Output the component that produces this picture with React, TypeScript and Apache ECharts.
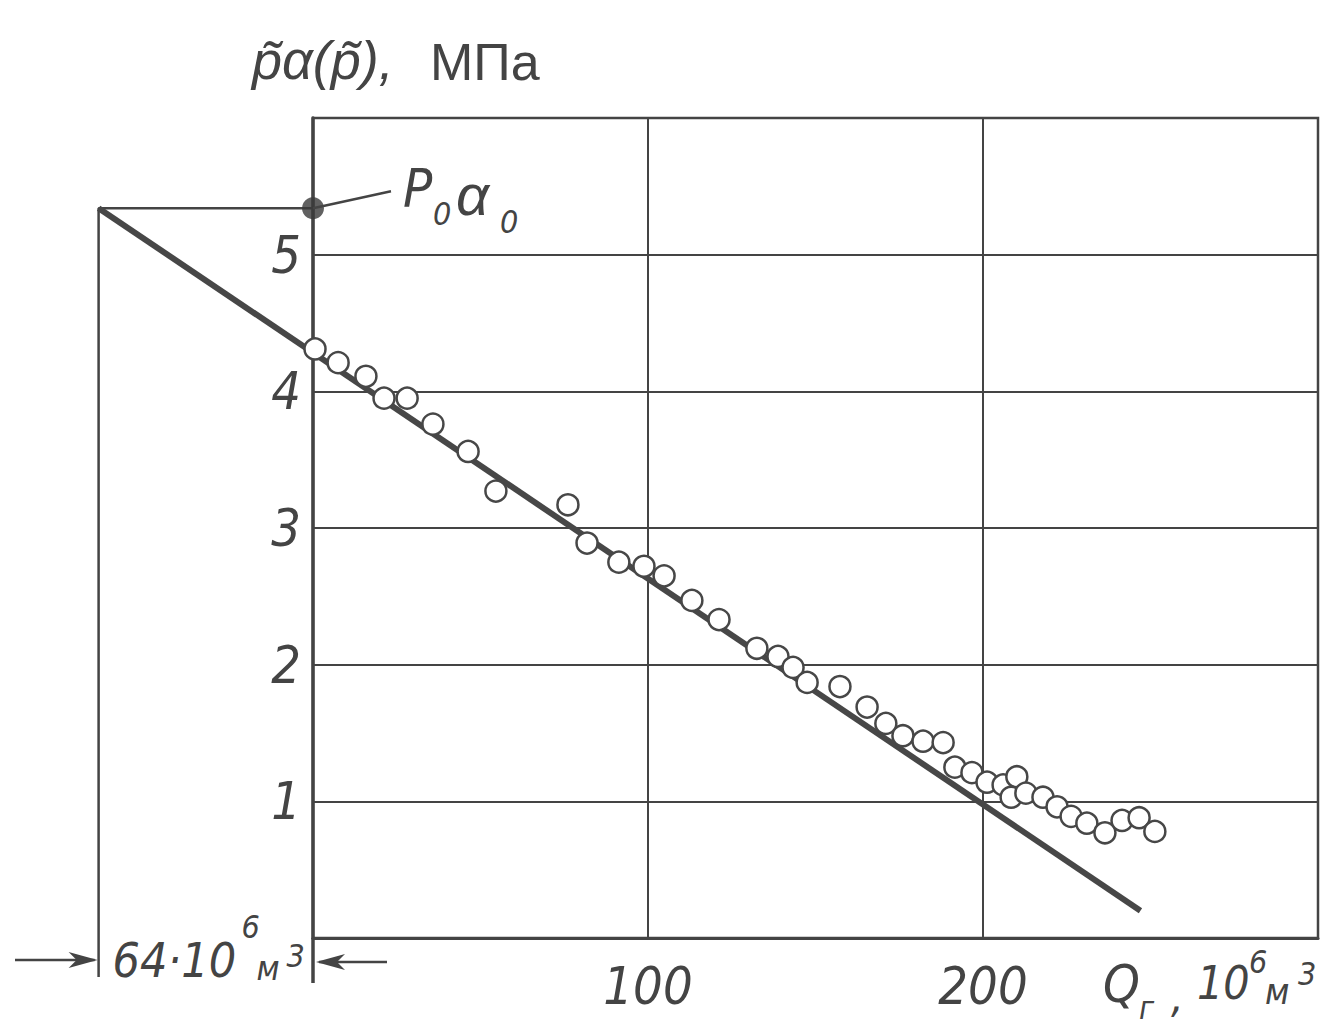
import React, { useEffect, useRef } from "react";
import * as echarts from "echarts";

// Measured points: gas production Q (10^6 m3) vs p~·α(p~) (MPa)
const gasQ = [
  0.6, 7.5, 15.8, 21.2, 28.1, 35.8, 46.3, 54.6, 76.1, 81.8,
  91.3, 98.8, 104.8, 113.1, 121.2, 132.5, 138.8, 143.3, 147.5, 157.3,
  165.4, 171.0, 176.1, 182.1, 188.1, 191.6, 196.7, 201.2, 206.0, 210.1,
  208.4, 212.8, 217.9, 222.1, 226.3, 231.0, 236.4, 241.5, 246.6, 251.3,
];
const pAlpha = [
  4.31, 4.21, 4.11, 3.95, 3.95, 3.76, 3.56, 3.27, 3.17, 2.89,
  2.75, 2.72, 2.65, 2.47, 2.33, 2.12, 2.06, 1.98, 1.87, 1.84,
  1.69, 1.57, 1.48, 1.44, 1.43, 1.25, 1.21, 1.14, 1.12, 1.18,
  1.03, 1.06, 1.03, 0.96, 0.89, 0.84, 0.77, 0.86, 0.88, 0.78,
];
// Extrapolated straight line
const fitQ = [-64, 247];
const fitP = [5.34, 0.2];
const p0Alpha0 = 5.34;
const offsetQ = -64;
const offsetFoot = -0.285;
const axisFoot = -0.33;
const xTickLabels = ["100", "200"];
const yTickLabels = ["1", "2", "3", "4", "5"];

const INK = "#444444";
const FONT = "'Liberation Sans Narrow','DejaVu Sans Condensed','Liberation Sans',sans-serif";
const FONT2 = "'Liberation Sans','DejaVu Sans',sans-serif";

// layout of the framed plot (pixels)
const GL = 313, GR = 19, GT = 118, GB = 92, W = 1337, H = 1030;
const X_MIN = 0, X_MAX = 300, Y_MIN = 0, Y_MAX = 6;
const EXT_X_MIN = -64, EXT_Y_MIN = -0.4;

export default function App() {
  const ref = useRef<HTMLDivElement>(null);
  useEffect(() => {
    const chart = echarts.init(ref.current!, null, { renderer: "svg" });
    const pxPerX = (W - GL - GR) / (X_MAX - X_MIN);
    const pxPerY = (H - GT - GB) / (Y_MAX - Y_MIN);
    const extLeft = GL + (EXT_X_MIN - X_MIN) * pxPerX;
    const extBottom = GB + (EXT_Y_MIN - Y_MIN) * pxPerY;
    chart.setOption({
      animation: false,
      backgroundColor: "#ffffff",
      grid: [
        { left: GL, right: GR, top: GT, bottom: GB, show: true, borderColor: INK, borderWidth: 2.5 },
        { left: extLeft, right: GR, top: GT, bottom: extBottom },
      ],
      xAxis: [
        {
          type: "value", min: X_MIN, max: X_MAX, interval: 100, gridIndex: 0,
          axisLine: { show: true, lineStyle: { color: INK, width: 3 } },
          axisTick: { show: false },
          splitLine: { show: true, lineStyle: { color: INK, width: 2 } },
          axisLabel: {
            margin: 22, color: INK, fontSize: 52, fontStyle: "italic", fontFamily: FONT,
            formatter: (v: number) => (xTickLabels.includes(String(v)) ? String(v) : ""),
          },
        },
        { type: "value", min: EXT_X_MIN, max: X_MAX, gridIndex: 1, show: false, splitLine: { show: false } },
      ],
      yAxis: [
        {
          type: "value", min: Y_MIN, max: Y_MAX, interval: 1, gridIndex: 0,
          axisLine: { show: true, lineStyle: { color: INK, width: 3.5 } },
          axisTick: { show: false },
          splitLine: { show: true, lineStyle: { color: INK, width: 2 } },
          axisLabel: {
            margin: 12, color: INK, fontSize: 52, fontStyle: "italic", fontFamily: FONT,
            formatter: (v: number) => (yTickLabels.includes(String(v)) ? String(v) : ""),
          },
        },
        { type: "value", min: EXT_Y_MIN, max: Y_MAX, gridIndex: 1, show: false, splitLine: { show: false } },
      ],
      series: [
        {
          type: "line", xAxisIndex: 1, yAxisIndex: 1, symbol: "none", z: 3,
          data: fitQ.map((q, i) => [q, fitP[i]]),
          lineStyle: { color: "#474747", width: 6 },
        },
        {
          type: "line", xAxisIndex: 1, yAxisIndex: 1, symbol: "none", z: 2,
          data: [[offsetQ, offsetFoot], [offsetQ, p0Alpha0], [0, p0Alpha0]],
          lineStyle: { color: INK, width: 2.5 },
        },
        {
          type: "line", xAxisIndex: 1, yAxisIndex: 1, symbol: "none", z: 2,
          data: [[0, 0], [0, axisFoot]],
          lineStyle: { color: INK, width: 3.5 },
        },
        {
          type: "scatter", xAxisIndex: 1, yAxisIndex: 1, z: 5, symbol: "circle", symbolSize: 21,
          data: gasQ.map((q, i) => [q, pAlpha[i]]),
          itemStyle: { color: "#ffffff", borderColor: "#474747", borderWidth: 2.5, opacity: 1 },
        },
        {
          type: "scatter", xAxisIndex: 1, yAxisIndex: 1, z: 6, symbol: "circle", symbolSize: 22,
          data: [[0, p0Alpha0]],
          itemStyle: { color: "#3a3a3a" },
        },
      ],
    });

    const G = (x: number, y: number) => chart.convertToPixel({ gridIndex: 1 }, [x, y]) as number[];
    const o = G(0, 0);
    const p0 = G(0, p0Alpha0);
    const lft = G(offsetQ, 0);
    const t = (text: string, x: number, y: number, size: number, family = FONT, style = "italic") => ({
      type: "text", z: 10,
      style: { text, x, y, fill: INK, fontSize: size, fontFamily: family, fontStyle: style, align: "left", verticalAlign: "middle" },
    });
    const ln = (x1: number, y1: number, x2: number, y2: number, w = 2.5) => ({
      type: "line", z: 10, shape: { x1, y1, x2, y2 }, style: { stroke: INK, lineWidth: w },
    });
    const annY = o[1] + 22;
    chart.setOption({
      graphic: [
        // p0 α0 label with leader
        ln(p0[0], p0[1], p0[0] + 78, p0[1] - 17),
        t("P", p0[0] + 90, p0[1] - 20, 54),
        t("0", p0[0] + 120, p0[1] + 6, 32),
        t("α", p0[0] + 143, p0[1] - 14, 58, FONT2),
        t("0", p0[0] + 187, p0[1] + 14, 32),
        // y title
        t("p̃α(p̃),", 252, 60, 54, FONT2),
        t("МПа", 430, 62, 52, FONT2, "normal"),
        // x title
        t("Q", o[0] + 790, o[1] + 46, 52),
        t("г", o[0] + 826, o[1] + 70, 32),
        t(",", o[0] + 858, o[1] + 58, 44),
        t("10", o[0] + 884, o[1] + 45, 46),
        t("6", o[0] + 936, o[1] + 24, 32),
        t("м", o[0] + 952, o[1] + 53, 36),
        t("3", o[0] + 985, o[1] + 36, 32),
        // 64·10^6 m3 annotation
        t("64·10", lft[0] + 14, annY, 48),
        t("6", lft[0] + 143, annY - 33, 32),
        t("м", lft[0] + 158, annY + 8, 34),
        t("3", lft[0] + 188, annY - 4, 32),
        ln(15, annY, lft[0] - 4, annY),
        { type: "polygon", z: 10, shape: { points: [[lft[0] - 1, annY], [lft[0] - 30, annY - 8], [lft[0] - 22, annY], [lft[0] - 30, annY + 8]] }, style: { fill: INK } },
        ln(o[0] + 74, annY + 2, o[0] + 6, annY + 2),
        { type: "polygon", z: 10, shape: { points: [[o[0] + 3, annY + 2], [o[0] + 32, annY - 6], [o[0] + 24, annY + 2], [o[0] + 32, annY + 10]] }, style: { fill: INK } },
      ],
    });
    return () => chart.dispose();
  }, []);
  return <div ref={ref} style={{ position: "absolute", left: 0, top: 0, width: W, height: H }} />;
}
